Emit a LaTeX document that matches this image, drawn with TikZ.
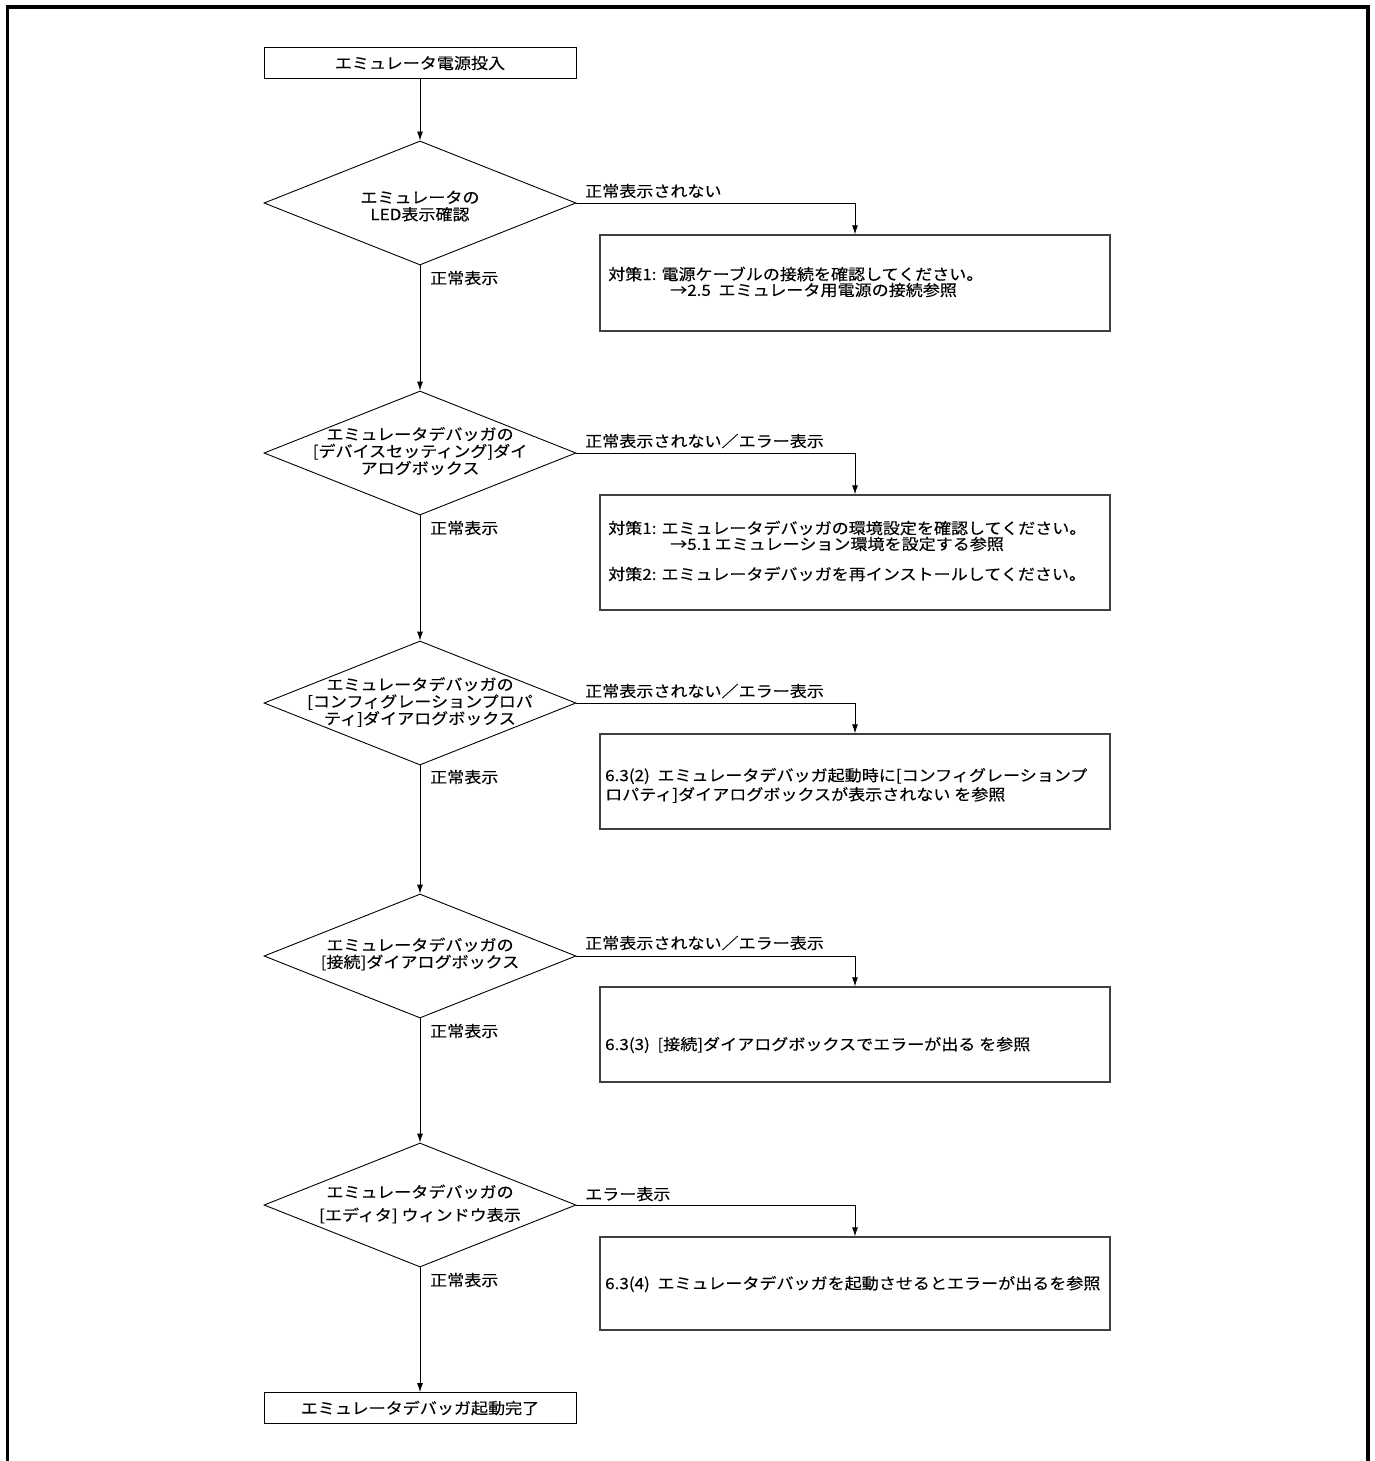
\documentclass[tikz,border=0pt]{standalone}
\usepackage{fontspec}
\setmainfont{Noto Sans CJK JP}[FakeStretch=1.1, FakeBold=0.2]
\usetikzlibrary{arrows.meta,shapes.geometric}
\tikzset{
  base/.style={font=\fontsize{15.5}{17}\selectfont},
  dia/.style={draw, shape=diamond, inner sep=0pt, minimum width=312pt, minimum height=124pt, line width=0.9pt},
  dtext/.style={base, align=center, inner sep=0pt},
  tbox/.style={draw, base, minimum width=312pt, minimum height=31pt, inner sep=0pt, line width=0.9pt},
  rbox/.style={draw=black!75, minimum width=510pt, inner sep=0pt, line width=1.3pt},
  btext/.style={base, anchor=west, inner sep=0pt},
  lbl/.style={base, anchor=west, inner sep=0pt},
  arr/.style={line width=0.9pt, -{Latex[length=9pt,width=6pt]}}
}
\begin{document}
\begin{tikzpicture}[x=1pt,y=-1pt]
\useasboundingbox (0,0) rectangle (1375,1461);
\draw[line width=3.8pt] (7.5,1461) -- (7.5,7) -- (1368,7) -- (1368,1461);

% start
\node[tbox] (start) at (420,63) {エミュレータ電源投入};

% diamonds
\node[dia] (d1) at (420,203) {};
\node[dtext] (t1) at ([yshift=-3pt]d1) {エミュレータの\\LED表示確認};
\node[dia] (d2) at (420,453) {};
\node[dtext] (t2) at ([yshift=2pt]d2) {エミュレータデバッガの\\{}[デバイスセッティング]ダイ\\アログボックス};
\node[dia] (d3) at (420,703) {};
\node[dtext] (t3) at ([yshift=1pt]d3) {エミュレータデバッガの\\{}[コンフィグレーションプロパ\\ティ]ダイアログボックス};
\node[dia] (d4) at (420,956) {};
\node[dtext] (t4) at ([yshift=2pt]d4) {エミュレータデバッガの\\{}[接続]ダイアログボックス};
\node[dia] (d5) at (420,1205) {};
\node[dtext, font=\fontsize{15.5}{23}\selectfont] (t5) at ([yshift=1pt]d5) {エミュレータデバッガの\\{}[エディタ] ウィンドウ表示};

% end
\node[tbox] (fin) at (420,1408) {エミュレータデバッガ起動完了};

% right boxes
\node[rbox, minimum height=96pt] (b1) at (855,283) {};
\node[btext] (b1a) at (608,274) {対策1:\hspace{5pt}電源ケーブルの接続を確認してください。};
\node[btext] (b1b) at (670,290) {→2.5\ \ エミュレータ用電源の接続参照};

\node[rbox, minimum height=115pt] (b2) at (855,552.5) {};
\node[btext] (b2a) at (608,528) {対策1:\hspace{5pt}エミュレータデバッガの環境設定を確認してください。};
\node[btext] (b2b) at (670,544) {→5.1 エミュレーション環境を設定する参照};
\node[btext] (b2c) at (608,574) {対策2:\hspace{5pt}エミュレータデバッガを再インストールしてください。};

\node[rbox, minimum height=95pt] (b3) at (855,781.5) {};
\node[btext] (b3a) at (605,776) {6.3(2)\ \ エミュレータデバッガ起動時に[コンフィグレーションプ};
\node[btext] (b3b) at (605,795) {ロパティ]ダイアログボックスが表示されない を参照};

\node[rbox, minimum height=95pt] (b4) at (855,1034.5) {};
\node[btext] (b4a) at (605,1045) {6.3(3)\ \ [接続]ダイアログボックスでエラーが出る を参照};

\node[rbox, minimum height=93pt] (b5) at (855,1283.5) {};
\node[btext] (b5a) at (605,1284) {6.3(4)\ \ エミュレータデバッガを起動させるとエラーが出るを参照};

% main flow
\draw[arr] (start) -- (d1.north);
\draw[arr] (d1.south) -- (d2.north);
\draw[arr] (d2.south) -- (d3.north);
\draw[arr] (d3.south) -- (d4.north);
\draw[arr] (d4.south) -- (d5.north);
\draw[arr] (d5.south) -- (fin);

% branches
\draw[arr] (d1.east) -| (b1.north);
\draw[arr] (d2.east) -| (b2.north);
\draw[arr] (d3.east) -| (b3.north);
\draw[arr] (d4.east) -| (b4.north);
\draw[arr] (d5.east) -| (b5.north);

% labels
\node[lbl] (n1) at (585,191) {正常表示されない};
\node[lbl] (n2) at (585,441) {正常表示されない／エラー表示};
\node[lbl] (n3) at (585,691) {正常表示されない／エラー表示};
\node[lbl] (n4) at (585,943) {正常表示されない／エラー表示};
\node[lbl] (n5) at (585,1194) {エラー表示};
\node[lbl] (y1) at (430,278) {正常表示};
\node[lbl] (y2) at (430,528) {正常表示};
\node[lbl] (y3) at (430,777) {正常表示};
\node[lbl] (y4) at (430,1031) {正常表示};
\node[lbl] (y5) at (430,1280) {正常表示};
\end{tikzpicture}
\end{document}
